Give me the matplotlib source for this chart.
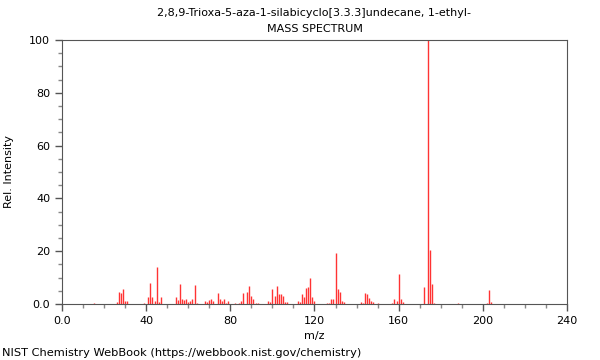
import matplotlib
matplotlib.use('Agg')
import matplotlib.pyplot as plt
from matplotlib.ticker import MultipleLocator, FixedFormatter, FixedLocator

# Picos del espectro (m/z, intensidad relativa)
mz = [15, 26, 27, 28, 29, 30, 31, 39, 41, 42, 43, 44, 45, 46, 47,
      54, 55, 56, 57, 58, 59, 60, 61, 62, 63, 64, 68, 69, 70, 71, 72,
      74, 75, 76, 77, 78, 79, 82, 84, 85, 86, 88, 89, 90, 91, 92, 93,
      98, 99, 100, 101, 102, 103, 104, 105, 106, 107, 112, 113, 114, 115,
      116, 117, 118, 119, 120, 126, 127, 128, 129, 130, 131, 132, 133, 134,
      142, 143, 144, 145, 146, 147, 148, 150, 157, 158, 159, 160, 161, 162,
      172, 174, 175, 176, 177, 188, 202, 203, 204]
intensidad = [0.5, 0.8, 4.7, 4.3, 5.7, 1.3, 1.3, 0.5, 2.8, 8.1, 2.8, 1.3, 13.9, 0.8, 2.5,
              2.5, 1.6, 7.6, 1.8, 1.5, 2.0, 0.8, 1.3, 2.0, 7.2, 0.5, 1.3, 0.6, 1.6, 2.0, 1.0,
              4.0, 2.0, 1.0, 2.0, 0.5, 1.2, 0.5, 0.5, 1.0, 4.0, 4.4, 6.8, 3.0, 2.0, 0.5, 0.5,
              1.1, 0.6, 5.8, 3.0, 6.7, 3.6, 3.6, 3.2, 0.6, 0.6, 1.1, 0.6, 3.8, 2.5,
              6.0, 6.6, 9.8, 2.5, 1.0, 0.3, 0.5, 2.0, 1.8, 19.2, 5.7, 4.4, 1.3, 0.6,
              0.6, 0.5, 4.0, 3.8, 2.2, 1.0, 0.8, 0.3, 0.5, 2.0, 1.3, 11.5, 2.0, 0.6,
              6.3, 100, 20.3, 7.4, 0.5, 0.5, 0.5, 5.3, 0.7]

titulo = '2,8,9-Trioxa-5-aza-1-silabicyclo[3.3.3]undecane, 1-ethyl-\nMASS SPECTRUM'
x_ticks = [0, 40, 80, 120, 160, 200, 240]
x_labels = ['0.0', '40', '80', '120', '160', '200', '240']
y_ticks = [0, 20, 40, 60, 80, 100]
y_labels = ['0.0', '20', '40', '60', '80', '100']

fig = plt.figure(figsize=(6, 3.6), dpi=100)
ax = fig.add_axes([0.1033, 0.1556, 0.8417, 0.7333])

ax.vlines(mz, 0, intensidad, colors='#ff3333', linewidth=1.0)

ax.set_xlim(0, 240)
ax.set_ylim(0, 100)
ax.xaxis.set_major_locator(FixedLocator(x_ticks))
ax.xaxis.set_major_formatter(FixedFormatter(x_labels))
ax.xaxis.set_minor_locator(MultipleLocator(10))
ax.yaxis.set_major_locator(FixedLocator(y_ticks))
ax.yaxis.set_major_formatter(FixedFormatter(y_labels))
ax.yaxis.set_minor_locator(MultipleLocator(5))
ax.tick_params(which='major', length=5, width=1, color='#555555', labelsize=8)
ax.tick_params(which='minor', length=3, width=1, color='#888888')
for s in ax.spines.values():
    s.set_color('#555555')

ax.set_xlabel('m/z', fontsize=8)
ax.set_ylabel('Rel. Intensity', fontsize=8, labelpad=11)
ax.set_title(titulo, fontsize=8, linespacing=1.7)
fig.text(0.003, 0.012, 'NIST Chemistry WebBook (https://webbook.nist.gov/chemistry)', fontsize=8.2)

fig.savefig('out.png', dpi=100)
